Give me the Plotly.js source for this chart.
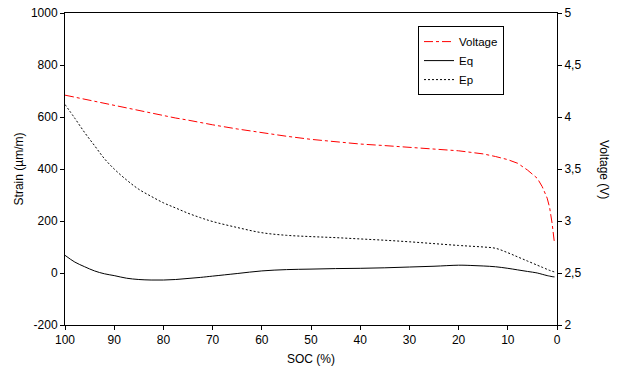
<!DOCTYPE html>
<html>
<head>
<meta charset="utf-8">
<script src="https://cdn.plot.ly/plotly-3.0.1.min.js"></script>
<style>html,body{margin:0;padding:0;background:#fff;}#chart{width:622px;height:371px;}</style>
</head>
<body>
<div id="chart"></div>
<script>
const soc = [100, 98, 96, 94, 92, 90, 87.5, 85, 82.5, 80, 77.5, 75, 72.5, 70, 65, 60, 55, 50, 45, 40, 35, 30, 25, 20, 17.5, 15, 12.5, 10, 8, 6, 4, 3, 2, 1.5, 1, 0.5];
const voltage = [4.21, 4.19, 4.17, 4.15, 4.13, 4.11, 4.085, 4.06, 4.035, 4.01, 3.99, 3.97, 3.945, 3.925, 3.885, 3.848, 3.815, 3.785, 3.76, 3.74, 3.725, 3.71, 3.695, 3.675, 3.66, 3.645, 3.62, 3.59, 3.555, 3.49, 3.41, 3.33, 3.22, 3.13, 2.98, 2.78];
const eq = [68, 42, 24, 8, -3, -10, -20, -25, -27, -27, -25, -21, -17, -12, -2, 8, 13, 15, 17, 18, 20, 23, 26, 30, 29, 27, 24, 18, 12, 6, 0, -5, -10, -12, -14, -15];
const ep = [648, 595, 540, 490, 440, 400, 358, 322, 295, 270, 250, 230, 213, 198, 175, 155, 145, 140, 136, 131, 126, 120, 113, 106, 103, 100, 95, 78, 62, 46, 30, 22, 14, 10, 7, 4];
const xTicks = [100, 90, 80, 70, 60, 50, 40, 30, 20, 10, 0];
const yTicks = [-200, 0, 200, 400, 600, 800, 1000];
const yTickText = ["-200", "0", "200", "400", "600", "800", "1000"];
const y2Ticks = [2, 2.5, 3, 3.5, 4, 4.5, 5];
const y2TickText = ["2", "2,5", "3", "3,5", "4", "4,5", "5"];

const font = {family: "Liberation Sans, Arial, sans-serif", size: 12, color: "#000"};
const legFont = {family: "Liberation Sans, Arial, sans-serif", size: 11.5, color: "#000"};

const traces = [
  {x: soc, y: voltage, yaxis: "y2", name: "Voltage", mode: "lines",
   line: {color: "#ff0000", width: 1, dash: "dashdot"}},
  {x: soc, y: eq, name: "Eq", mode: "lines",
   line: {color: "#000", width: 1, shape: "spline"}},
  {x: soc, y: ep, name: "Ep", mode: "lines",
   line: {color: "#000", width: 1, dash: "2px,2px", shape: "spline"}}
];

const axisCommon = {showline: true, linecolor: "#000", linewidth: 1, ticks: "outside",
  ticklen: 4, tickcolor: "#000", showgrid: false, zeroline: false, tickfont: font};

const layout = {
  width: 622, height: 371,
  margin: {l: 65, r: 65, t: 13, b: 46},
  paper_bgcolor: "#fff", plot_bgcolor: "#fff",
  font: font,
  showlegend: true,
  legend: {x: 0.7175, y: 0.958, xanchor: "left", yanchor: "top",
    bordercolor: "#000", borderwidth: 1, bgcolor: "#fff", font: legFont},
  xaxis: Object.assign({}, axisCommon, {range: [100, 0], tickvals: xTicks, mirror: true,
    title: {text: "SOC (%)", font: font, standoff: 8}}),
  yaxis: Object.assign({}, axisCommon, {range: [-200, 1000], tickvals: yTicks, ticktext: yTickText,
    title: {text: "Strain (µm/m)", font: font, standoff: 4}}),
  yaxis2: Object.assign({}, axisCommon, {range: [2, 5], tickvals: y2Ticks, ticktext: y2TickText,
    overlaying: "y", side: "right"}),
  annotations: [{text: "Voltage (V)", xref: "paper", yref: "paper", x: 1, xshift: 47, y: 0.5,
    xanchor: "center", yanchor: "middle", textangle: 90, showarrow: false, font: font}]
};

Plotly.newPlot("chart", traces, layout, {displayModeBar: false, staticPlot: true});
</script>
</body>
</html>
